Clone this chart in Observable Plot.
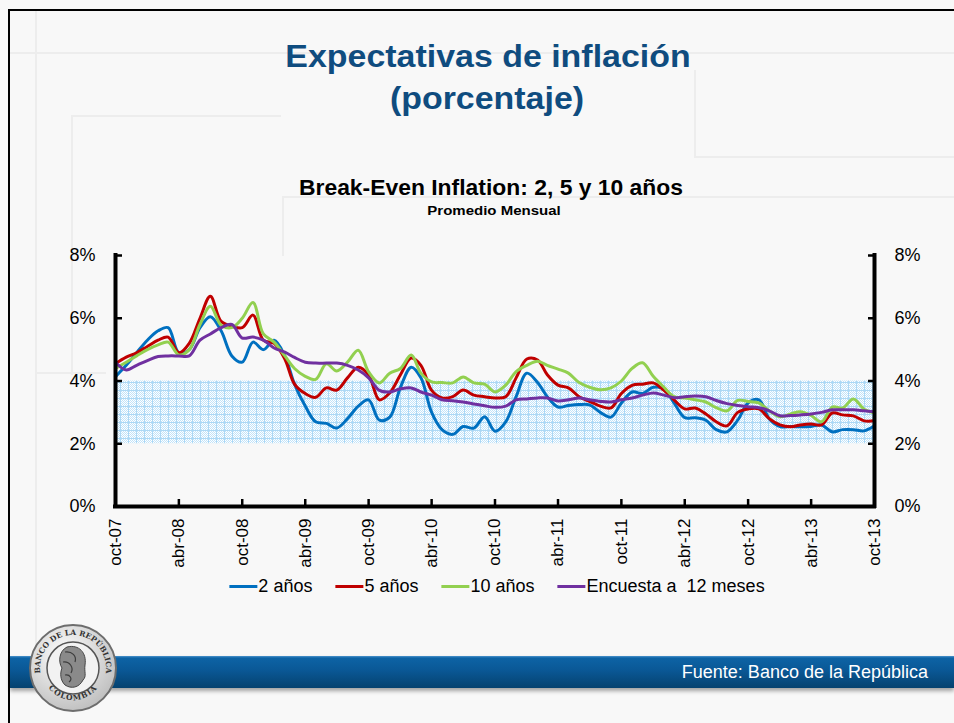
<!DOCTYPE html>
<html>
<head>
<meta charset="utf-8">
<script src="https://cdn.jsdelivr.net/npm/d3@7"></script>
<script src="https://cdn.jsdelivr.net/npm/@observablehq/plot@0.6"></script>
<style>
  body { margin: 0; background: #f8f8f8; }
  #page { position: relative; width: 954px; height: 723px; overflow: hidden; background: #f8f8f8;
          font-family: "Liberation Sans", Arial, sans-serif; }
  .deco { position: absolute; background: #ededed; }
  .frame { position: absolute; left: 8px; top: 9px; width: 960px; height: 730px;
           border-left: 2px solid #000; border-top: 2px solid #000; }
  .t { position: absolute; white-space: nowrap; line-height: 1; transform-origin: center; }
  .main { color: #0f4c7f; font-weight: bold; font-size: 32px; }
  #chart { position: absolute; left: 0; top: 230px; }
  #legend { position: absolute; top: 576px; left: 497px; transform: translateX(-50%);
            display: flex; gap: 23px; font-size: 18px; line-height: 20px; color: #000; white-space: pre; }
  #legend .item { display: flex; align-items: center; }
  #legend .sw { width: 28px; height: 3px; margin-right: 1px; }
  .band { position: absolute; left: 10px; top: 656px; width: 944px; height: 32px;
          background: linear-gradient(#4b93cc 0px, #0d63a5 2px, #0a5896 14px, #05426f 32px);
          box-shadow: 0 3px 4px rgba(0,0,0,0.35); }
  .fuente { position: absolute; right: 26px; top: 663px; color: #fff; font-size: 18px; line-height: 18px; }
  #logo { position: absolute; left: 27px; top: 622px; }
</style>
</head>
<body>
<div id="page">
  <div class="deco" style="left:10px;top:52px;width:944px;height:2px;"></div>
  <div class="deco" style="left:35px;top:11px;width:2px;height:640px;"></div>
  <div class="deco" style="left:71px;top:115px;width:2px;height:260px;"></div>
  <div class="deco" style="left:71px;top:115px;width:210px;height:2px;"></div>
  <div class="deco" style="left:694px;top:70px;width:2px;height:88px;"></div>
  <div class="deco" style="left:694px;top:156px;width:260px;height:2px;"></div>
  <div class="deco" style="left:282px;top:196px;width:2px;height:60px;"></div>
  <div class="deco" style="left:282px;top:196px;width:672px;height:2px;"></div>
  <div class="deco" style="left:36px;top:372px;width:70px;height:2px;"></div>
  <div class="frame"></div>

  <div class="t main" id="t1" style="left:488px;top:40px;">Expectativas de inflación</div>
  <div class="t main" id="t2" style="left:487px;top:82px;">(porcentaje)</div>
  <div class="t" id="t3" style="left:491px;top:177px;font-size:22px;font-weight:bold;color:#000;">Break-Even Inflation: 2, 5 y 10 años</div>
  <div class="t" id="t4" style="left:494px;top:205px;font-size:12px;font-weight:bold;color:#000;">Promedio Mensual</div>

  <div id="chart"></div>
  <div id="legend"></div>

  <div class="band"></div>
  <div class="fuente">Fuente: Banco de la República</div>
  <svg id="logo" width="92" height="92" viewBox="0 0 92 92">
    <defs>
      <path id="arcTop" d="M 17.4,62.5 A 33,33 0 1 1 74.6,62.5"/>
      <path id="arcBot" d="M 17,58 A 31,31 0 0 0 75,58"/>
      <radialGradient id="coin" cx="40%" cy="35%" r="70%">
        <stop offset="0" stop-color="#ffffff"/><stop offset="1" stop-color="#bdbdbd"/>
      </radialGradient>
    </defs>
    <circle cx="46" cy="46" r="43" fill="url(#coin)" stroke="#6d6d6d" stroke-width="2"/>
    <circle cx="46" cy="46" r="26" fill="#f2f2f2" stroke="#555" stroke-width="1.5"/>
    <path d="M40,25 C52,22 60,31 58,43 C57,50 60,54 56,58 C52,66 44,67 38,63 C33,58 33,51 35,46 C31,40 32,29 40,25 Z" fill="#8a8a8a" stroke="#444" stroke-width="1"/>
    <path d="M38,30 C45,29 50,34 48,40 M36,40 C43,39 47,46 44,51 M38,53 C43,52 46,57 42,60" stroke="#3d3d3d" fill="none" stroke-width="1.2"/>
    <text font-family="DejaVu Serif, serif" font-size="7.5" font-weight="bold" fill="#333">
      <textPath href="#arcTop" startOffset="50%" text-anchor="middle">BANCO DE LA REPÚBLICA</textPath>
    </text>
    <text font-family="DejaVu Serif, serif" font-size="7.5" font-weight="bold" fill="#333" letter-spacing="1">
      <textPath href="#arcBot" startOffset="50%" text-anchor="middle">COLOMBIA</textPath>
    </text>
  </svg>
</div>

<script>
// ---- Data (monthly averages, %) oct-07 .. oct-13 ----
const startMonth = "2007-10-01";
const endMonth = "2013-10-01";

const serieNames = ["2 años", "5 años", "10 años", "Encuesta a  12 meses"];
const serieColors = ["#0070c0", "#c00000", "#92d050", "#7030a0"];

const bei2 = [4.14,4.5,4.9,5.3,5.6,5.7,4.9,5.0,5.7,6.05,5.6,4.8,4.6,5.24,5.0,5.3,4.8,3.9,3.2,2.7,
  2.65,2.5,2.8,3.2,3.4,2.75,2.85,3.8,4.44,4.1,3.0,2.45,2.3,2.55,2.5,2.86,2.4,2.7,3.5,4.25,
  3.95,3.5,3.17,3.22,3.25,3.24,3.0,2.85,3.3,3.65,3.6,3.8,3.75,3.3,2.83,2.83,2.75,2.45,2.38,2.75,
  3.3,3.4,2.8,2.55,2.55,2.54,2.55,2.6,2.38,2.45,2.45,2.41,2.57];

const bei5 = [4.55,4.76,4.9,5.1,5.3,5.4,4.9,5.2,6.0,6.7,5.9,5.75,5.7,6.1,5.3,5.2,4.7,3.9,3.6,3.48,
  3.78,3.71,4.1,4.44,4.19,3.4,3.62,4.2,4.73,4.5,3.7,3.46,3.5,3.71,3.55,3.5,3.46,3.5,4.1,4.7,
  4.67,4.2,3.87,3.78,3.5,3.35,3.2,3.14,3.6,3.86,3.9,3.94,3.7,3.4,3.11,3.14,2.95,2.7,2.57,3.0,
  3.11,3.11,2.8,2.6,2.54,2.6,2.63,2.6,2.98,2.92,2.89,2.73,2.73];

const bei10 = [4.4,4.6,4.8,5.0,5.15,5.24,4.83,5.0,5.8,6.38,5.78,5.7,6.0,6.5,5.5,5.24,4.8,4.4,4.15,4.05,
  4.55,4.32,4.6,4.98,4.29,3.94,4.25,4.4,4.83,4.25,3.97,3.95,3.94,4.13,3.94,3.9,3.65,3.87,4.3,4.5,
  4.63,4.5,4.38,4.25,3.95,3.8,3.72,3.78,4.0,4.4,4.58,4.15,3.8,3.5,3.46,3.4,3.33,3.15,3.05,3.38,
  3.35,3.3,3.05,2.86,2.95,3.02,2.9,2.7,3.17,3.14,3.43,3.1,2.98];

const encuesta = [4.6,4.35,4.5,4.65,4.78,4.8,4.8,4.8,5.3,5.5,5.7,5.8,5.37,5.4,5.3,5.05,4.92,4.75,4.6,4.57,
  4.57,4.57,4.5,4.35,4.1,3.7,3.65,3.75,3.78,3.65,3.55,3.4,3.37,3.33,3.27,3.21,3.16,3.2,3.4,3.43,
  3.46,3.46,3.36,3.4,3.46,3.4,3.35,3.33,3.4,3.46,3.55,3.62,3.55,3.47,3.5,3.52,3.5,3.38,3.28,3.22,
  3.18,3.15,3.05,2.89,2.9,2.92,2.95,3.0,3.08,3.08,3.08,3.05,3.02];

// Target range band (2% - 4%)
const bandLow = 2;
const bandHigh = 4;

// Axis ticks
const yTicks = [0, 2, 4, 6, 8];
const xTickMonths = ["2007-10-01","2008-04-01","2008-10-01","2009-04-01","2009-10-01","2010-04-01","2010-10-01",
  "2011-04-01","2011-10-01","2012-04-01","2012-10-01","2013-04-01","2013-10-01"];
const xTickLabels = ["oct-07","abr-08","oct-08","abr-09","oct-09","abr-10","oct-10",
  "abr-11","oct-11","abr-12","oct-12","abr-13","oct-13"];

// ---- Build tables ----
const t0 = new Date(startMonth), t1 = new Date(endMonth);
const dates = d3.utcMonths(t0, d3.utcMonth.offset(t1, 1));
const seriesValues = [bei2, bei5, bei10, encuesta];
const rows = seriesValues.map((vals, k) => vals.map((v, i) => ({date: dates[i], value: v, serie: serieNames[k]})));
const tickDates = xTickMonths.map(s => new Date(s));
const labelOf = new Map(tickDates.map((d, i) => [+d, xTickLabels[i]]));
const band = [{start: t0, end: t1, lo: bandLow, hi: bandHigh}];

const chart = Plot.plot({
  width: 954,
  height: 350,
  marginLeft: 115,
  marginRight: 80,
  marginTop: 25,
  marginBottom: 74,
  style: {background: "transparent", fontFamily: "Liberation Sans, Arial, sans-serif", fontSize: "18px", color: "#000", overflow: "visible"},
  x: {type: "utc", domain: [t0, t1]},
  y: {domain: [0, 8]},
  marks: [
    Plot.rect(band, {x1: "start", x2: "end", y1: "lo", y2: "hi", fill: "url(#dotgrid)"}),
    ...rows.map((r, k) => Plot.lineY(r, {x: "date", y: "value", stroke: serieColors[k], strokeWidth: 3, curve: "catmull-rom"})),
    Plot.axisY(yTicks, {anchor: "left", tickSize: 0, tickPadding: 20, tickFormat: d => d + "%", fontSize: 18}),
    Plot.axisY(yTicks, {anchor: "right", tickSize: 0, tickPadding: 20, tickFormat: d => d + "%", fontSize: 18}),
    Plot.axisY(yTicks, {anchor: "left", tickSize: -7, tickFormat: () => "", strokeWidth: 2.5}),
    Plot.axisY(yTicks, {anchor: "right", tickSize: -7, tickFormat: () => "", strokeWidth: 2.5}),
    Plot.axisX(tickDates, {anchor: "bottom", tickSize: -7, tickFormat: () => "", strokeWidth: 2.5}),
    Plot.axisX(tickDates, {anchor: "bottom", tickSize: 0, tickPadding: 12, tickRotate: -90, fontSize: 17, tickFormat: d => labelOf.get(+d)}),
    Plot.ruleY([0], {strokeWidth: 4, strokeLinecap: "square"}),
    Plot.ruleX([t0, t1], {y1: 0, y2: 8, strokeWidth: 4, strokeLinecap: "square"})
  ]
});

// Dotted light-blue pattern for the target band
const defs = d3.select(chart).insert("defs", ":first-child");
const pat = defs.append("pattern").attr("id", "dotgrid").attr("patternUnits", "userSpaceOnUse")
  .attr("width", 8).attr("height", 8);
pat.append("rect").attr("width", 8).attr("height", 8).attr("fill", "#ffffff");
let dots = "";
for (let yy = 0; yy < 8; yy++) for (let xx = 0; xx < 8; xx++) if ((xx + yy) % 2 === 0) dots += `M${xx},${yy}h1v1h-1z`;
pat.append("path").attr("d", dots).attr("fill", "#c2e3f9");
pat.append("rect").attr("x", 0).attr("y", 0).attr("width", 8).attr("height", 1).attr("fill", "#acd8f5");
pat.append("rect").attr("x", 0).attr("y", 0).attr("width", 1).attr("height", 8).attr("fill", "#acd8f5");

document.getElementById("chart").appendChild(chart);

// Legend
const legend = d3.select("#legend");
serieNames.forEach((name, k) => {
  const it = legend.append("div").attr("class", "item");
  it.append("div").attr("class", "sw").style("background", serieColors[k]);
  it.append("span").text(name);
});

// Slightly widened slide titles
[["t1", 1.06], ["t2", 1.06], ["t3", 1.04], ["t4", 1.25]].forEach(([id, s]) => {
  document.getElementById(id).style.transform = `translateX(-50%) scaleX(${s})`;
});
</script>
</body>
</html>
